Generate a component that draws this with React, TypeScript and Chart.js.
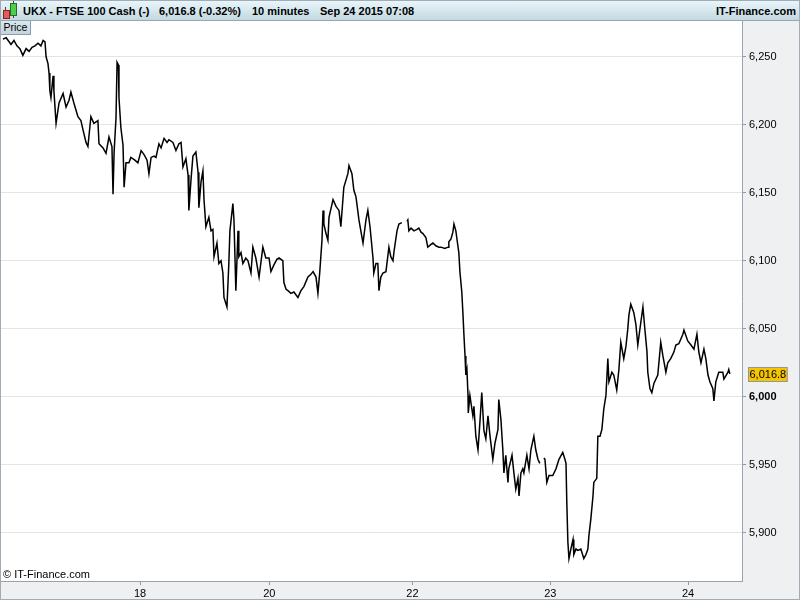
import React, { useEffect, useRef } from "react";
import { Chart, registerables } from "chart.js";

Chart.register(...registerables);

// Time axis in 10-minute bars since the start of the window; prices = FTSE 100 cash
const sessionATimes = [
  0.7, 1.9, 3.0, 3.7, 4.8, 5.9, 7.0, 8.1, 9.3, 10.4,
  11.5, 12.6, 13.7, 14.8, 15.6, 16.3, 16.7, 17.4, 17.8, 18.1,
  18.5, 19.3, 19.6, 20.4, 21.5, 23.0, 24.1, 25.2, 25.9, 27.0,
  28.5, 29.6, 30.4, 31.5, 32.2, 33.3, 34.4, 35.9, 36.3, 37.8,
  38.9, 40.0, 41.1, 41.5, 41.9, 42.6, 43.0, 43.5, 43.7, 44.4,
  45.2, 45.6, 46.3, 47.4, 48.1, 49.6, 50.7, 51.9, 53.0, 54.1,
  54.8, 55.6, 56.7, 57.4, 58.5, 59.3, 60.4, 61.5, 62.2, 63.7,
  64.8, 65.9, 66.7, 67.4, 68.5, 69.3, 69.6, 70.4, 71.1, 72.2,
  73.0, 73.3, 74.1, 74.8, 75.2, 75.9, 77.0, 77.8, 78.5, 78.9,
  80.0, 80.7, 81.5, 82.2, 82.6, 83.7, 84.4, 84.8, 85.9, 86.3,
  87.0, 87.8, 88.1, 88.9, 89.6, 90.7, 91.5, 92.6, 93.3, 94.4,
  95.6, 97.0, 98.1, 99.3, 100.0, 101.1, 102.2, 103.0, 104.4, 104.8,
  105.6, 106.3, 107.4, 108.5, 110.0, 111.1, 112.2, 113.7, 114.8, 115.6,
  116.7, 117.4, 118.1, 118.9, 119.3, 119.6, 120.4, 121.1, 121.5, 123.0,
  124.1, 125.2, 125.9, 127.0, 128.5, 128.9, 130.0, 130.7, 131.5, 132.6,
  133.3, 134.1, 135.2, 135.9, 136.7, 137.8, 138.1, 138.9, 139.6, 140.0,
  140.7, 141.5, 142.6, 143.7, 144.4, 145.2, 145.6, 146.7, 147.4, 148.5,
];
const sessionAPrices = [
  6263, 6264, 6261, 6259, 6262, 6258, 6256, 6251, 6256, 6254,
  6257, 6258, 6260, 6258, 6262, 6261, 6250, 6245, 6238, 6225,
  6220, 6236, 6225, 6201, 6216, 6223, 6213, 6218, 6224, 6216,
  6206, 6203, 6196, 6187, 6184, 6206, 6201, 6203, 6186, 6183,
  6179, 6191, 6184, 6149, 6180, 6205, 6246, 6244, 6220, 6198,
  6185, 6154, 6172, 6172, 6176, 6174, 6172, 6181, 6178, 6174,
  6164, 6176, 6177, 6176, 6186, 6183, 6190, 6187, 6189, 6187,
  6181, 6186, 6187, 6169, 6175, 6163, 6137, 6160, 6177, 6180,
  6165, 6139, 6158, 6166, 6145, 6125, 6132, 6122, 6123, 6103,
  6113, 6098, 6100, 6091, 6073, 6066, 6098, 6122, 6142, 6130,
  6078, 6122, 6103, 6106, 6098, 6102, 6100, 6091, 6110, 6102,
  6088, 6110, 6102, 6102, 6092, 6097, 6101, 6102, 6100, 6084,
  6079, 6078, 6076, 6077, 6073, 6078, 6081, 6088, 6090, 6092,
  6088, 6076, 6092, 6115, 6137, 6127, 6120, 6115, 6132, 6145,
  6140, 6137, 6125, 6154, 6164, 6170, 6164, 6152, 6147, 6130,
  6122, 6113, 6130, 6137, 6125, 6102, 6091, 6098, 6098, 6078,
  6088, 6091, 6092, 6110, 6103, 6100, 6107, 6122, 6127, 6128,
];

const sessionBTimes = [
  150.4, 150.7, 151.1, 151.9, 153.0, 154.1, 154.8, 155.6, 156.3, 157.4,
  158.1, 159.3, 160.0, 161.1, 162.2, 163.0, 164.4, 165.6, 165.9, 166.7,
  167.4, 167.8, 168.5, 168.9, 169.6, 170.0, 170.7, 171.1, 171.5, 171.9,
  172.2, 172.6, 173.0, 173.1, 173.7, 174.8, 175.2, 175.9, 176.7, 177.4,
  178.1, 178.9, 179.6, 180.4, 181.1, 182.2, 183.0, 184.1, 184.4, 185.2,
  185.9, 186.3, 187.0, 187.8, 188.1, 189.3, 190.0, 190.7, 191.5, 191.9,
  192.6, 193.3, 193.7, 194.8, 195.6, 196.3, 197.4, 198.1, 198.9, 199.6,
];
const sessionBPrices = [
  6129, 6130, 6122, 6124, 6122, 6123, 6124, 6121, 6120, 6117,
  6110, 6112, 6113, 6111, 6110, 6110, 6109, 6110, 6114, 6116,
  6121, 6127, 6122, 6116, 6106, 6092, 6077, 6062, 6045, 6030,
  6016, 6020, 6001, 5988, 6001, 5986, 5993, 5971, 5961, 5981,
  6003, 5975, 5969, 5986, 5972, 5954, 5966, 5976, 5998, 5983,
  5961, 5944, 5957, 5937, 5947, 5957, 5944, 5932, 5940, 5927,
  5944, 5947, 5944, 5957, 5947, 5961, 5971, 5961, 5954, 5951,
];

const sessionCTimes = [
  201.1, 201.5, 202.2, 203.0, 204.4, 205.6, 206.7, 208.1, 208.9, 209.3,
  209.6, 210.0, 210.4, 211.1, 211.9, 212.2, 213.0, 213.7, 214.8, 215.9,
  216.7, 217.4, 217.8, 218.5, 219.3, 219.6, 220.7, 221.1, 221.9, 222.6,
  223.3, 224.1, 224.8, 225.2, 226.3, 227.0, 228.1, 228.9, 229.6, 230.7,
  231.5, 232.2, 232.6, 233.3, 234.4, 235.2, 235.9, 236.7, 237.8, 238.5,
  239.3, 239.6, 240.4, 241.1, 241.9, 243.3, 244.4, 245.2, 246.3, 247.0,
  248.1, 249.3, 250.0, 251.1, 252.6, 253.0, 254.4, 255.6, 256.7, 257.8,
  258.5, 259.3, 260.4, 261.1, 261.9, 262.6, 263.7, 264.1, 264.8, 265.9,
  267.4, 267.8, 269.3, 269.6, 270.0,
];
const sessionCPrices = [
  5955, 5954, 5937, 5942, 5942, 5947, 5954, 5959, 5954, 5951,
  5922, 5893, 5881, 5888, 5895, 5884, 5888, 5887, 5888, 5881,
  5884, 5888, 5898, 5910, 5927, 5937, 5940, 5971, 5971, 5976,
  5991, 6001, 6028, 6011, 6018, 6016, 6005, 6020, 6040, 6028,
  6037, 6050, 6060, 6068, 6062, 6053, 6038, 6050, 6066, 6050,
  6033, 6018, 6006, 6003, 6010, 6016, 6040, 6030, 6018, 6025,
  6028, 6033, 6038, 6039, 6046, 6049, 6041, 6038, 6035, 6046,
  6033, 6025, 6035, 6028, 6016, 6011, 6006, 5997, 6011, 6018,
  6018, 6013, 6018, 6020, 6016.8,
];

// break points between sessions (no data)
const sessionBreaks = [149.5, 200.4];

const dayTickBars = [51.5, 99.4, 152.4, 203.5, 254.5];
const dayTickLabels = ["18", "20", "22", "23", "24"];

const lastPrice = 6016.8;
const yMin = 5864.5;
const yMax = 6276.3;
const xMax = 274.5;
const priceStep = 50;

const FONT = "'Liberation Sans', Arial, sans-serif";

export default function App() {
  const ref = useRef<HTMLCanvasElement>(null);

  useEffect(() => {
    document.body.style.margin = "0";
    const times = [...sessionATimes, sessionBreaks[0], ...sessionBTimes, sessionBreaks[1], ...sessionCTimes];
    const prices: (number | null)[] = [...sessionAPrices, null, ...sessionBPrices, null, ...sessionCPrices];
    const data = times.map((t, i) => ({ x: t, y: prices[i] }));

    const plotBg = {
      id: "plotBg",
      beforeDraw(chart: any) {
        const { ctx, chartArea: a } = chart;
        ctx.save();
        ctx.fillStyle = "#ffffff";
        ctx.fillRect(a.left, a.top, a.right - a.left, a.bottom - a.top);
        ctx.restore();
      },
    };

    const lastTag = {
      id: "lastTag",
      afterDraw(chart: any) {
        const { ctx, chartArea: a } = chart;
        const y = chart.scales.y.getPixelForValue(lastPrice);
        const text = lastPrice.toLocaleString("en-US", { minimumFractionDigits: 1 });
        ctx.save();
        ctx.font = `11px ${FONT}`;
        const w = ctx.measureText(text).width + 3;
        const x = a.right + 6;
        ctx.fillStyle = "#f7c400";
        ctx.fillRect(x, Math.round(y) - 7, w, 15);
        ctx.strokeStyle = "#8e98a0";
        ctx.lineWidth = 1;
        ctx.strokeRect(x + 0.5, Math.round(y) - 6.5, w - 1, 14);
        ctx.fillStyle = "#000";
        ctx.textBaseline = "middle";
        ctx.textAlign = "left";
        ctx.fillText(text, x + 1.5, Math.round(y) + 0.5);
        ctx.restore();
      },
    };

    const chart = new Chart(ref.current as HTMLCanvasElement, {
      type: "line",
      data: {
        datasets: [
          {
            data: data as any,
            borderColor: "#000000",
            borderWidth: 1.5,
            pointRadius: 0,
            tension: 0,
            spanGaps: false,
            fill: false,
          },
        ],
      },
      options: {
        animation: false,
        responsive: false,
        maintainAspectRatio: false,
        layout: { padding: 0 },
        plugins: { legend: { display: false }, tooltip: { enabled: false } },
        scales: {
          x: {
            type: "linear",
            position: "bottom",
            min: 0,
            max: xMax,
            afterBuildTicks: (s: any) => {
              s.ticks = dayTickBars.map((v) => ({ value: v }));
            },
            afterFit: (s: any) => {
              s.height = 18;
              s.paddingLeft = 0;
              s.paddingRight = 0;
            },
            ticks: {
              autoSkip: false,
              maxRotation: 0,
              padding: 2,
              color: "#000",
              font: { family: FONT, size: 11 },
              callback: (_v: any, i: number) => dayTickLabels[i],
            },
            grid: { drawOnChartArea: false, tickLength: 4, tickColor: "#8f9aa3" },
            border: { color: "#9aa4ac" },
          },
          y: {
            position: "right",
            min: yMin,
            max: yMax,
            afterFit: (s: any) => {
              s.width = 57;
              s.paddingTop = 0;
              s.paddingBottom = 0;
            },
            ticks: {
              stepSize: priceStep,
              includeBounds: false,
              padding: 3,
              color: "#000",
              font: (ctx: any) => ({
                family: FONT,
                size: 11,
                weight: ctx.tick && ctx.tick.value === 6000 ? "bold" : "normal",
              }),
              callback: (v: any) => Number(v).toLocaleString("en-US"),
            },
            grid: { color: "#e4e4e4", tickLength: 4, tickColor: "#8f9aa3" },
            border: { color: "#9aa4ac" },
          },
        },
      },
      plugins: [plotBg, lastTag],
    });
    return () => chart.destroy();
  }, []);

  const headerText: React.CSSProperties = {
    position: "absolute",
    top: 1,
    lineHeight: "19px",
    fontSize: 11,
    fontWeight: "bold",
    color: "#000",
    whiteSpace: "nowrap",
  };

  return (
    <div
      style={{
        position: "fixed",
        left: 0,
        top: 0,
        width: 800,
        height: 600,
        boxSizing: "border-box",
        border: "1px solid #a3acb4",
        background: "#eff0f2",
        fontFamily: FONT,
        overflow: "hidden",
      }}
    >
      <div
        style={{
          position: "absolute",
          left: 0,
          top: 0,
          width: 798,
          height: 19,
          borderBottom: "1px solid #9aa5ad",
          background: "linear-gradient(#e8f6fb, #c4d8e0)",
        }}
      >
        {/* candlestick icon */}
        <div style={{ position: "absolute", left: 4, top: 6, width: 1, height: 12, background: "#444" }} />
        <div
          style={{
            position: "absolute",
            left: 2,
            top: 9,
            width: 5,
            height: 7,
            background: "#e85a5a",
            border: "1px solid #7a2a2a",
          }}
        />
        <div style={{ position: "absolute", left: 12, top: 0, width: 1, height: 17, background: "#444" }} />
        <div
          style={{
            position: "absolute",
            left: 9,
            top: 2,
            width: 5,
            height: 11,
            background: "#4cd04c",
            border: "1px solid #2a6a2a",
          }}
        />
        <span style={{ ...headerText, left: 22 }}>UKX - FTSE 100 Cash (-)</span>
        <span style={{ ...headerText, left: 158 }}>6,016.8 (-0.32%)</span>
        <span style={{ ...headerText, left: 251 }}>10 minutes</span>
        <span style={{ ...headerText, left: 319 }}>Sep 24 2015 07:08</span>
        <span style={{ ...headerText, right: 3 }}>IT-Finance.com</span>
      </div>
      <canvas
        ref={ref}
        width={798}
        height={578}
        style={{ position: "absolute", left: 0, top: 20, width: 798, height: 578 }}
      />
      <div
        style={{
          position: "absolute",
          left: 0,
          top: 20,
          width: 29,
          height: 13,
          borderRight: "1px solid #8e9ea8",
          borderBottom: "1px solid #8e9ea8",
          background: "linear-gradient(#d8e8ef, #c2d5de)",
          fontSize: 10.5,
          lineHeight: "13px",
          textAlign: "center",
          color: "#000",
        }}
      >
        Price
      </div>
      <div
        style={{
          position: "absolute",
          left: 2,
          top: 567,
          fontSize: 11,
          lineHeight: "13px",
          color: "#000",
          whiteSpace: "nowrap",
        }}
      >
        © IT-Finance.com
      </div>
    </div>
  );
}
